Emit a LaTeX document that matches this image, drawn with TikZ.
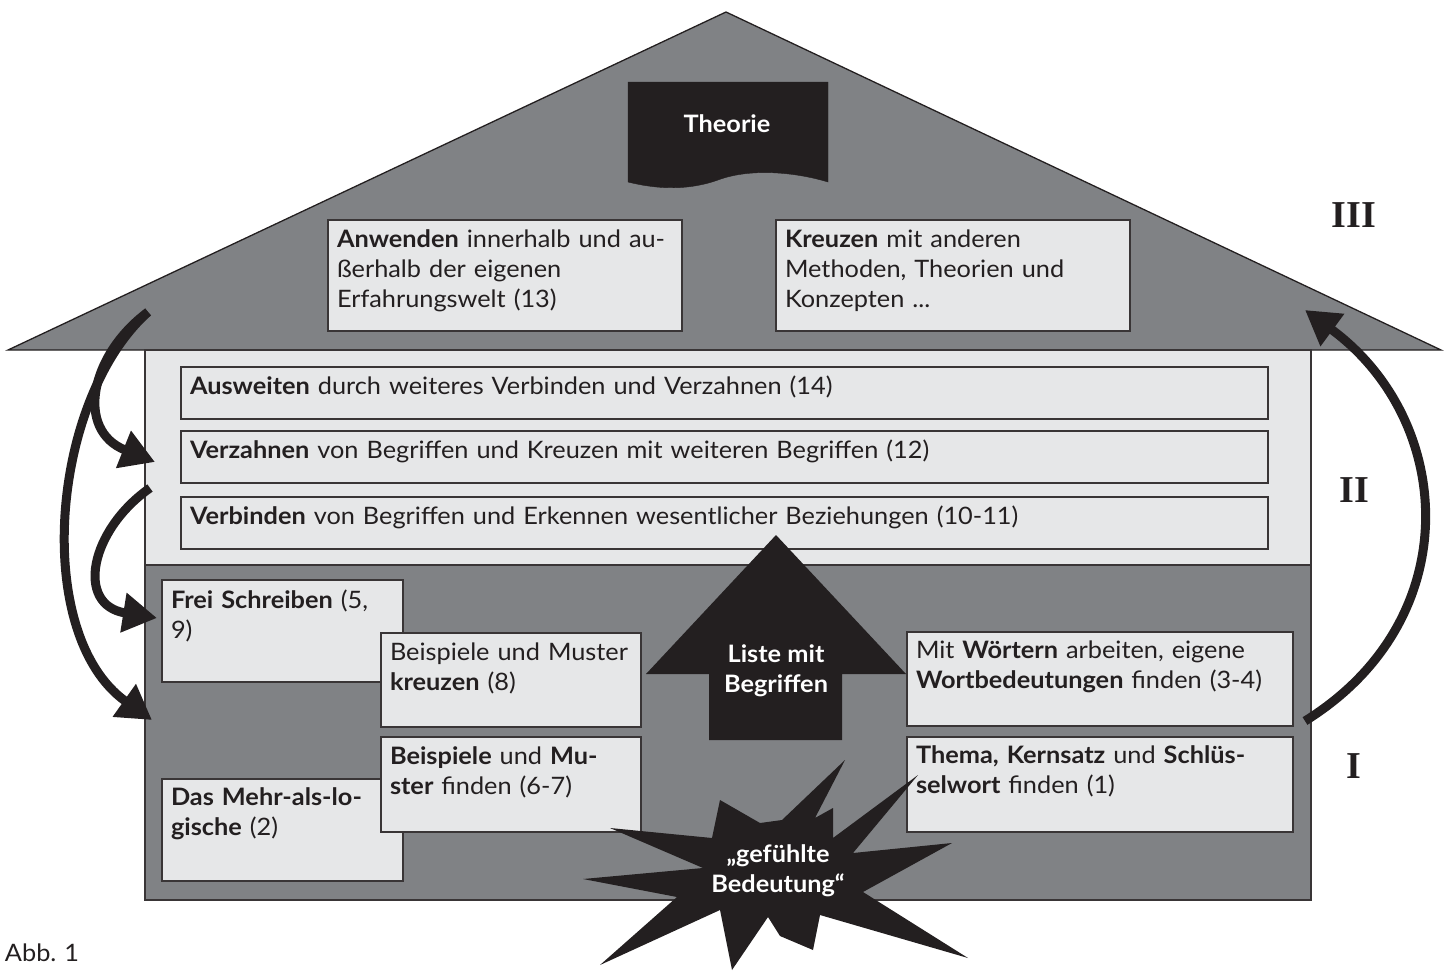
\documentclass[tikz,border=0pt]{standalone}
\usepackage{fontspec}
\setmainfont{Lato}[FakeStretch=1.055]
\newfontfamily\romfont{Liberation Serif}
\usetikzlibrary{arrows.meta,fit}
\definecolor{roofgray}{RGB}{128,130,133}
\definecolor{paleg}{RGB}{230,231,232}
\definecolor{ink}{RGB}{35,31,32}
\frenchspacing
\begin{document}
\begin{tikzpicture}[x=1pt,y=-1pt,
  box/.style={draw=ink!90, line width=1.5pt, fill=paleg, inner sep=0pt, outer sep=0pt},
  txt/.style={anchor=base west, inner sep=0pt, outer sep=0pt, text width=1100pt, align=left,
    font=\fontsize{24}{30}\selectfont, text=ink},
  wtxt/.style={inner sep=0pt, align=center, font=\fontsize{24}{30}\selectfont\bfseries, text=white},
  num/.style={inner sep=0pt, anchor=base, font=\romfont\bfseries\fontsize{38}{40}\selectfont, text=ink},
  bigarrow/.style={line width=9pt, draw=ink, -{Triangle[length=34pt,width=38pt]}}]
\useasboundingbox (0,0) rectangle (1446,972);

% roof
\draw[fill=roofgray, draw=ink, line width=1.3pt, line join=miter] (8,350) -- (726,12) -- (1441,350) -- cycle;
% walls
\node[box, fit={(145,350) (1311,565)}] (upper) {};
\node[box, fill=roofgray, fit={(145,565) (1311,900)}] (lower) {};

% Theorie document
\filldraw[ink] (628,82) -- (828,82) -- (828,182) .. controls (795,172) and (750,168) .. (718,180)
   .. controls (690,190) and (660,190) .. (628,182) -- cycle;
\node[wtxt, anchor=base] (theorie) at (727,132) {Theorie};

% roof boxes
\node[box, fit={(328,220) (682,331)}] (anw) {};
\node[txt] (anwt) at (337,247) {\textbf{Anwenden} innerhalb und au-\\ßerhalb der eigenen\\Erfahrungswelt (13)};
\node[box, fit={(776,220) (1130,331)}] (kreuz) {};
\node[txt] (kreuzt) at (785,247) {\textbf{Kreuzen} mit anderen\\Methoden, Theorien und\\Konzepten ...};

% middle boxes
\node[box, fit={(181,367) (1268,419)}] (ausw) {};
\node[txt] (auswt) at (190,394) {\textbf{Ausweiten} durch weiteres Verbinden und Verzahnen (14)};
\node[box, fit={(181,431) (1268,483)}] (verz) {};
\node[txt] (verzt) at (190,458) {\textbf{Verzahnen} von Begriffen und Kreuzen mit weiteren Begriffen (12)};
\node[box, fit={(181,497) (1268,549)}] (verb) {};
\node[txt] (verbt) at (190,524) {\textbf{Verbinden} von Begriffen und Erkennen wesentlicher Beziehungen (10-11)};

% lower boxes
\node[box, fit={(162,580) (403,682)}] (frei) {};
\node[txt] (freit) at (171,608) {\textbf{Frei Schreiben} (5,\\9)};
\node[box, fit={(381,633) (641,727)}] (bspk) {};
\node[txt] (bspkt) at (390,660) {Beispiele und Muster\\\textbf{kreuzen} (8)};
\node[box, fit={(162,779) (403,881)}] (mehr) {};
\node[txt] (mehrt) at (171,805) {\textbf{Das Mehr-als-lo-}\\\textbf{gische} (2)};
\node[box, fit={(381,737) (641,832)}] (bspf) {};
\node[txt] (bspft) at (390,764) {\textbf{Beispiele} und \textbf{Mu-}\\\textbf{ster} finden (6-7)};
\node[box, fit={(907,632) (1293,726)}] (woer) {};
\node[txt] (woert) at (916,658) {Mit \textbf{Wörtern} arbeiten, eigene\\\textbf{Wortbedeutungen} finden (3-4)};
\node[box, fit={(907,737) (1293,832)}] (thema) {};
\node[txt] (themat) at (916,763) {\textbf{Thema, Kernsatz} und \textbf{Schlüs-}\\\textbf{selwort} finden (1)};

% up arrow
\fill[ink] (776,535) -- (906,674) -- (842,674) -- (842,740) -- (709,740) -- (709,674) -- (646,674) -- cycle;
\node[wtxt, anchor=base] (liste) at (776,662) {Liste mit};
\node[wtxt, anchor=base] (begr) at (776,692) {Begriffen};

% star
\fill[ink] (720,800) -- (760,823) -- (782,820) -- (845,760) -- (815,818) -- (833,808) -- (833,838)
  -- (918,775) -- (853,853) -- (952,843) -- (863,892) -- (968,958) -- (820,915) -- (813,950)
  -- (780,936) -- (768,917) -- (732,970) -- (720,910) -- (600,965) -- (677,897) -- (583,879)
  -- (703,868) -- (610,828) -- (712,838) -- cycle;
\node[wtxt, anchor=base] (gef1) at (778,862) {„gefühlte};
\node[wtxt, anchor=base] (gef2) at (778,892) {Bedeutung“};

% curved arrows
\coordinate (sL) at (148,312);
\coordinate (tA) at (155,462);
\coordinate (sB) at (150,488);
\coordinate (tB) at (157,618);
\coordinate (tC) at (152,720);
\coordinate (sR) at (1305,721);
\coordinate (tR) at (1305,310);
\draw[bigarrow] (sL) .. controls (50,400) and (32,635) .. (tC);
\draw[bigarrow] (sL) .. controls (90,355) and (75,430) .. (tA);
\draw[bigarrow] (sB) .. controls (90,530) and (75,605) .. (tB);
\draw[bigarrow] (sR) .. controls (1468,620) and (1455,420) .. (tR);

% level numerals
\node[num] (n3) at (1354,227) {III};
\node[num] (n2) at (1354,502) {II};
\node[num] (n1) at (1354,778) {I};

\node[txt] (abb) at (5,961) {Abb. 1};
\end{tikzpicture}
\end{document}
